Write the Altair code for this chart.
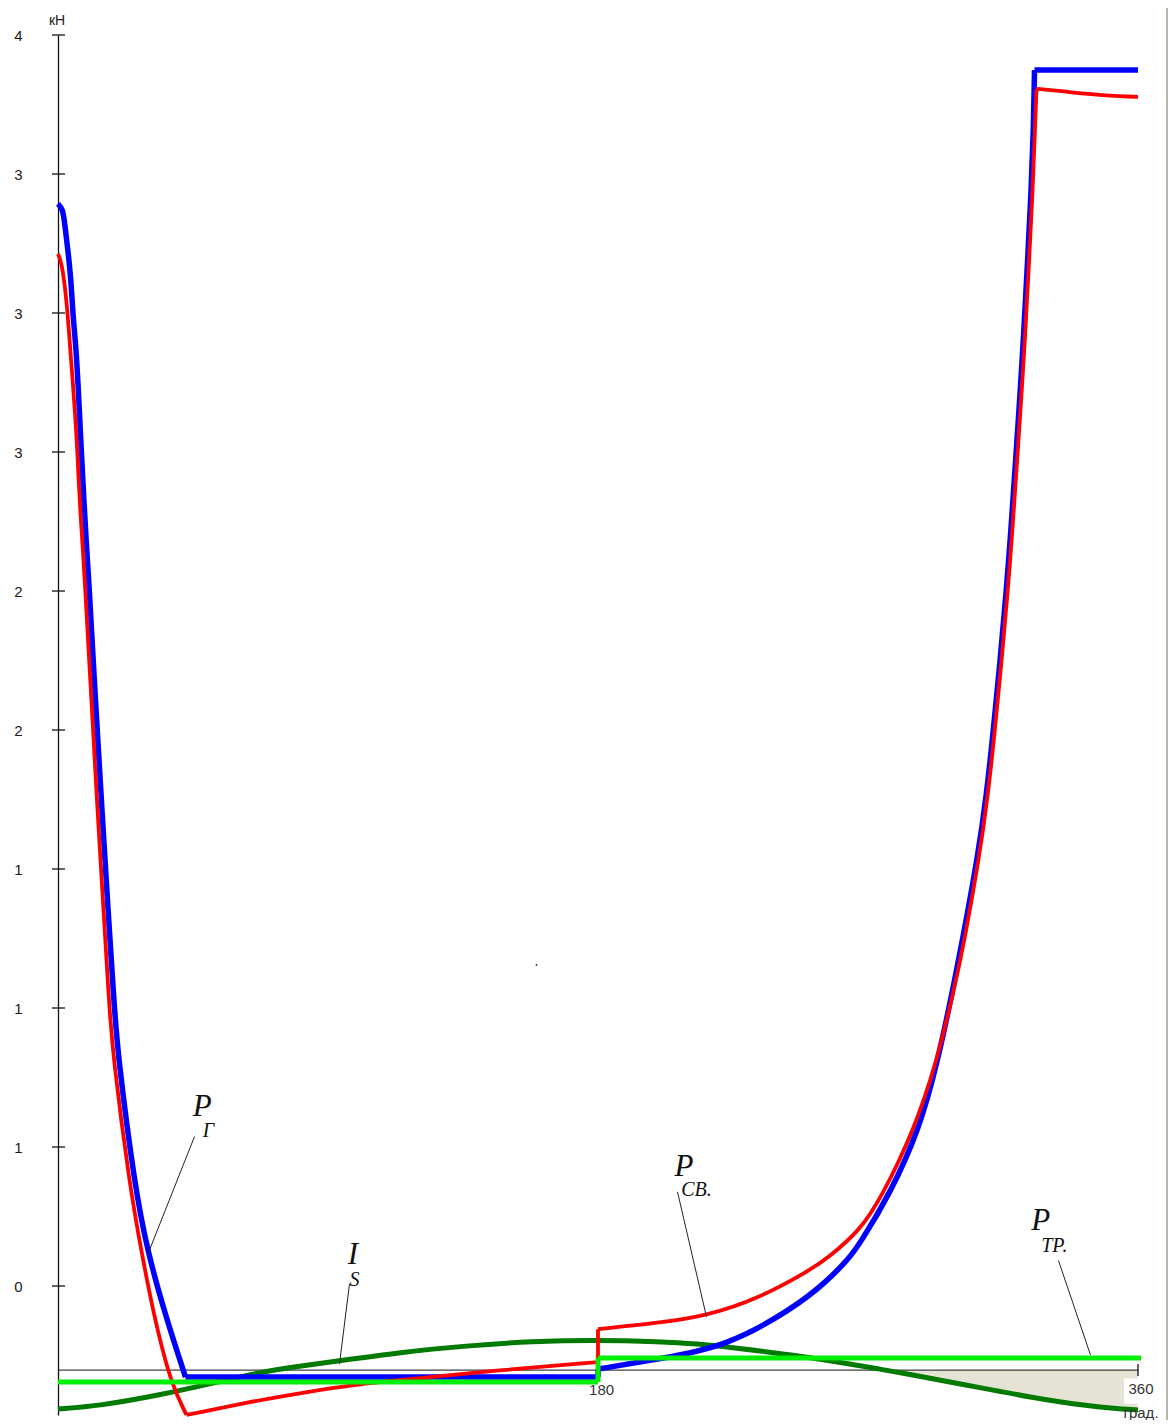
import altair as alt
import pandas as pd

# ---- scale / axis values (kN, degrees) ----
Y_MIN = -0.1712
Y_MAX = 3.8
AXIS_Y = -0.042          # level of the horizontal axis line
y_ticks = [0.2, 0.6, 1.0, 1.4, 1.8, 2.2, 2.6, 3.0, 3.4, 3.8]   # shown rounded: 0 1 1 1 2 2 3 3 3 4

# ---- blue curve ----
blue_deg = [0, 1.6, 2.17, 3.27, 4.4, 4.93, 6.07, 6.93, 7.73, 8.6, 9.4, 10.17, 12.5, 14.5, 16.5,
            18.67, 19.83, 25.5, 29.83, 36.17, 42.5, 180, 180, 200.5, 222.83, 244.83, 256.17,
            263.83, 267.17, 277.17, 287.17, 293.17, 297.9, 301.4, 306.7, 309.5, 311.83, 314, 316,
            317.67, 319.17, 320.67, 322, 323.17, 324.33, 325.17, 325.5, 360]
blue_kn = [3.314, 3.299, 3.262, 3.184, 3.089, 2.997, 2.896, 2.753, 2.609, 2.465, 2.341, 2.246, 1.881,
           1.593, 1.305, 1.017, 0.873, 0.491, 0.298, 0.105, -0.062, -0.062, -0.039, -0.010,
           0.026, 0.134, 0.212, 0.281, 0.321, 0.462, 0.652, 0.845, 1.037, 1.190, 1.440, 1.613, 1.803,
           1.996, 2.189, 2.378, 2.571, 2.764, 2.954, 3.147, 3.340, 3.530, 3.699, 3.699]
blue_breaks = [0, 20, 21, 22, 46, 47]      # smooth pieces between these point indices

# ---- red curve ----
red_deg = [0, 1.07, 2.17, 3.27, 4.07, 4.93, 5.73, 6.4, 6.93, 7.5, 8.27, 8.83, 11.17, 13, 15, 17,
           18.17, 23.83, 27.83, 32.17, 37.83, 42.83, 63.83, 80.5, 100.5, 113.83, 147.17, 180, 180,
           200.5, 216.17, 233.83, 250.5, 256.17, 267.17, 274.5, 285.5, 292.83, 298.3, 302.1, 307.2,
           310.0, 312.33, 314.5, 316.5, 318.17, 319.67, 321.17, 322.5, 323.67, 324.83, 325.67,
           326.17, 333.83, 350.5, 360]
red_kn = [3.170, 3.147, 3.089, 2.994, 2.896, 2.801, 2.706, 2.609, 2.514, 2.419, 2.321, 2.246, 1.881,
          1.593, 1.305, 1.017, 0.873, 0.491, 0.298, 0.105, -0.085, -0.171, -0.134, -0.108, -0.082,
          -0.071, -0.042, -0.019, 0.076, 0.094, 0.114, 0.165, 0.245, 0.278, 0.358, 0.455, 0.652,
          0.845, 1.037, 1.190, 1.440, 1.613, 1.803, 1.996, 2.189, 2.378, 2.571, 2.764, 2.954, 3.147,
          3.340, 3.530, 3.645, 3.639, 3.624, 3.622]
red_breaks = [0, 21, 27, 28, 52, 55]

# ---- dark green curve (I_S) ----
ins_deg = [0, 13.83, 33.83, 50.5, 67.17, 80.5, 93.83, 113.83, 136.17, 158.17, 179.5, 200.5, 213.83,
           222.83, 244.83, 263.83, 273.83, 280.5, 308.17, 330.5, 347.17, 360]
ins_kn = [-0.154, -0.145, -0.114, -0.082, -0.048, -0.031, -0.015, 0.009, 0.028, 0.041, 0.045, 0.040,
          0.033, 0.025, 0.002, -0.024, -0.039, -0.049, -0.094, -0.130, -0.149, -0.157]
ins_breaks = [0, 21]

# ---- light green line (P_TP) ----
fr_deg = [0, 180, 180, 361]
fr_kn = [-0.076, -0.076, -0.007, -0.007]
fr_breaks = [0, 1, 2, 3]

# ---- annotations ----
ann_x = [44.93, 96.6, 205.5, 324.4]
ann_y = [0.690, 0.262, 0.516, 0.362]
ann_t = ["P", "I", "P", "P"]
sub_x = [48.27, 97.17, 207.73, 327.73]
sub_y = [0.630, 0.200, 0.458, 0.299]
sub_t = ["Г", "S", "СВ.", "ТР."]
lead_x = [45.5, 97.17, 206.5, 333.5]
lead_y = [0.630, 0.2065, 0.471, 0.273]
lead_x2 = [29.83, 93.83, 216.17, 344.17]
lead_y2 = [0.289, -0.0245, 0.111, 0.0014]

xlab_x = [181.2, 361.0, 361.0]
xlab_y = [-0.099, -0.096, -0.165]
xlab_t = ["180", "360", "град."]


def pieces(xs, ys, breaks):
    """Split a traced curve into smooth pieces that share their end points."""
    rows = []
    for s in range(len(breaks) - 1):
        a, b = breaks[s], breaks[s + 1]
        for k in range(a, b + 1):
            rows.append({"x": xs[k], "y": ys[k], "i": k, "seg": s})
    return pd.DataFrame(rows)


XS = alt.Scale(domain=[0, 360], nice=False, zero=False)
YS = alt.Scale(domain=[Y_MIN, Y_MAX], nice=False, zero=False)
X = alt.X("x:Q", scale=XS, axis=None)
Y_AXIS = alt.Axis(values=y_ticks, format=".0f", ticks=False, grid=False, domain=True,
                  domainColor="#111", domainWidth=1.3, labelPadding=36,
                  labelFont="Liberation Sans", labelFontSize=15, labelColor="#1a1a1a",
                  labelFlush=False, labelOverlap=False, title=None)
Y = alt.Y("y:Q", scale=YS, axis=Y_AXIS)

# fill between axis line and dark green (right side)
sel = [k for k, d in enumerate(ins_deg) if d >= 273.83]
fill_df = pd.DataFrame({"fx": [ins_deg[k] for k in sel], "fy": [ins_kn[k] for k in sel]})
fill_df["fb"] = AXIS_Y
fill = alt.Chart(fill_df).mark_area(color="#E4E3D5", opacity=1, interpolate="basis").encode(
    x=alt.X("fx:Q", scale=XS, axis=None),
    y=alt.Y("fy:Q", scale=YS, axis=Y_AXIS, stack=None),
    y2="fb:Q")

white_box = alt.Chart(pd.DataFrame({"x": [355.3], "x2": [367], "y": [-0.066], "y2": [-0.139]})).mark_rect(
    color="white").encode(x=X, x2="x2:Q", y=Y, y2="y2:Q")

axis_line = alt.Chart(pd.DataFrame({"x": [0], "x2": [360], "y": [AXIS_Y]})).mark_rule(
    color="#111", strokeWidth=1).encode(x=X, x2="x2:Q", y=Y)

yticks = alt.Chart(pd.DataFrame({"y": y_ticks})).mark_rule(color="#111", strokeWidth=1.3).encode(
    x=alt.value(-6), x2=alt.value(7), y=Y)

xticks = alt.Chart(pd.DataFrame({"x": [180, 360], "y": [-0.0245, -0.0245], "y2": [-0.059, -0.059]})).mark_rule(
    color="#111", strokeWidth=1.3).encode(x=X, y=Y, y2="y2:Q")


def curve(xs, ys, breaks, color, width):
    return alt.Chart(pieces(xs, ys, breaks)).mark_line(
        color=color, strokeWidth=width, interpolate="basis", strokeJoin="round").encode(
        x=X, y=Y, detail="seg:N", order="i:Q")


g_dark = curve(ins_deg, ins_kn, ins_breaks, "#007A00", 5)
g_blue = curve(blue_deg, blue_kn, blue_breaks, "#0000FF", 5.5)
g_red = curve(red_deg, red_kn, red_breaks, "#FF0000", 3.8)
g_light = curve(fr_deg, fr_kn, fr_breaks, "#00EE00", 5)

leaders = alt.Chart(pd.DataFrame({"x": lead_x, "y": lead_y, "x2": lead_x2, "y2": lead_y2})).mark_rule(
    color="#222", strokeWidth=1).encode(x=X, y=Y, x2="x2:Q", y2="y2:Q")

ann_main = alt.Chart(pd.DataFrame({"x": ann_x, "y": ann_y, "t": ann_t})).mark_text(
    font="Liberation Serif", fontStyle="italic", fontSize=31, align="left", baseline="alphabetic",
    color="#111").encode(x=X, y=Y, text="t:N")
ann_sub = alt.Chart(pd.DataFrame({"x": sub_x, "y": sub_y, "t": sub_t})).mark_text(
    font="Liberation Serif", fontStyle="italic", fontSize=20, align="left", baseline="alphabetic",
    color="#111").encode(x=X, y=Y, text="t:N")

xlabels = alt.Chart(pd.DataFrame({"x": xlab_x, "y": xlab_y, "t": xlab_t})).mark_text(
    font="Liberation Sans", fontSize=15, align="center", baseline="middle", color="#333").encode(
    x=X, y=Y, text="t:N")

unit = alt.Chart(pd.DataFrame({"x": [-0.3], "y": [3.84], "t": ["кН"]})).mark_text(
    font="Liberation Sans", fontSize=14, align="center", baseline="middle", color="#222").encode(
    x=X, y=Y, text="t:N")

dot = alt.Chart(pd.DataFrame({"x": [159.5], "y": [1.124]})).mark_circle(size=3, color="#222", opacity=1).encode(
    x=X, y=Y)

border = alt.Chart(pd.DataFrame({"a": [0]})).mark_rule(color="#B8B5AA", strokeWidth=2).encode(
    x=alt.value(1109), y=alt.value(-27), y2=alt.value(1385))

chart = alt.layer(
    fill, white_box, axis_line, yticks, xticks, g_dark, g_blue, g_red, g_light,
    leaders, ann_main, ann_sub, xlabels, unit, dot, border
).properties(
    width=1080, height=1380,
    autosize=alt.AutoSizeParams(type="none"),
    padding={"left": 50, "top": 27, "right": 30, "bottom": 5},
    background="white",
).configure_view(stroke=None)

chart.save("out.html", embed_options={"renderer": "svg", "actions": False})
